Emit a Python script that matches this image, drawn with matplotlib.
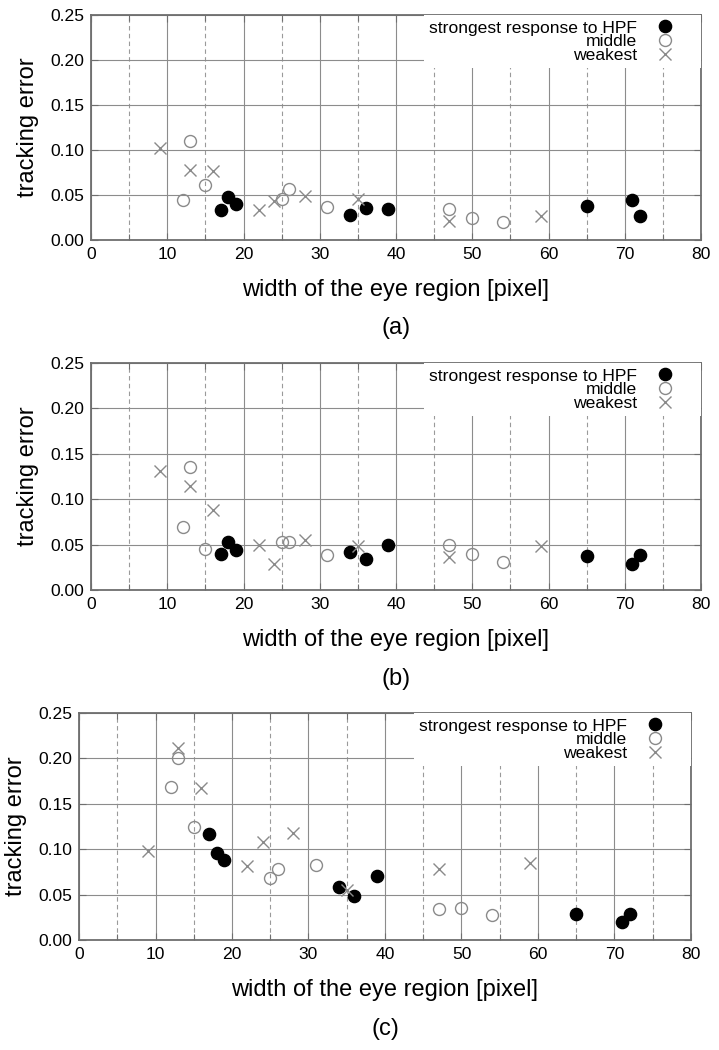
import matplotlib
matplotlib.use('Agg')
import matplotlib.pyplot as plt
from matplotlib.ticker import MultipleLocator

plt.rcParams['font.family'] = ['Liberation Sans', 'DejaVu Sans']

# eye region widths [pixel], same for all three panels
strong_x = [17, 18, 19, 34, 36, 39, 65, 71, 72]
middle_x = [12, 13, 15, 25, 26, 31, 47, 50, 54]
weak_x = [9, 13, 16, 22, 24, 28, 35, 47, 59]

# tracking error, panel (a)
strong_a = [0.033, 0.048, 0.040, 0.028, 0.036, 0.035, 0.038, 0.044, 0.027]
middle_a = [0.045, 0.110, 0.061, 0.046, 0.057, 0.037, 0.034, 0.025, 0.020]
weak_a = [0.102, 0.078, 0.077, 0.033, 0.043, 0.049, 0.046, 0.021, 0.027]

# tracking error, panel (b)
strong_b = [0.040, 0.053, 0.044, 0.042, 0.034, 0.050, 0.037, 0.029, 0.038]
middle_b = [0.069, 0.135, 0.045, 0.053, 0.053, 0.038, 0.050, 0.040, 0.031]
weak_b = [0.131, 0.115, 0.088, 0.050, 0.029, 0.055, 0.048, 0.036, 0.049]

# tracking error, panel (c)
strong_c = [0.117, 0.096, 0.088, 0.058, 0.048, 0.070, 0.029, 0.020, 0.029]
middle_c = [0.169, 0.200, 0.125, 0.068, 0.078, 0.083, 0.034, 0.035, 0.028]
weak_c = [0.098, 0.211, 0.167, 0.081, 0.108, 0.118, 0.055, 0.078, 0.085]

series_labels = ['strongest response to HPF', 'middle', 'weakest']
panel_tags = ['(a)', '(b)', '(c)']

W, H = 719, 1050
fig = plt.figure(figsize=(W / 100, H / 100), dpi=100)

# axes boxes in pixels: left, top, right, bottom
boxes = [(91, 15, 701, 240), (91, 363, 701, 590), (79, 713, 691, 940)]
panels = [(strong_a, middle_a, weak_a),
          (strong_b, middle_b, weak_b),
          (strong_c, middle_c, weak_c)]

tick_fs = 12.6
label_fs = 17
frame_col = '#6e6e6e'
grid_col = '#8c8c8c'
gray = '#8a8a8a'


def draw_panel(box, values, tag):
    l, t, r, b = box
    ax = fig.add_axes([l / W, 1 - b / H, (r - l) / W, (b - t) / H])
    strong, middle, weak = values

    ax.plot(strong_x, strong, ls='none', marker='o', ms=8.8,
            mfc='black', mec='black', label=series_labels[0], zorder=3)
    ax.plot(middle_x, middle, ls='none', marker='o', ms=8.6,
            mfc='none', mec=gray, mew=1.0, label=series_labels[1], zorder=3)
    ax.plot(weak_x, weak, ls='none', marker='x', ms=9.0,
            color=gray, mew=1.0, label=series_labels[2], zorder=3)

    ax.set_xlim(0, 80)
    ax.set_ylim(0, 0.25)
    ax.xaxis.set_major_locator(MultipleLocator(10))
    ax.xaxis.set_minor_locator(MultipleLocator(5))
    ax.yaxis.set_major_locator(MultipleLocator(0.05))
    ax.yaxis.set_major_formatter(lambda v, p: f'{v:.2f}')

    ax.grid(True, which='major', color=grid_col, lw=0.8)
    ax.grid(True, which='minor', axis='x', color='#9a9a9a', lw=0.8,
            ls=(0, (4, 3)))
    ax.set_axisbelow(True)

    ax.tick_params(which='both', direction='in', top=True, right=True,
                   length=5, width=0.8, color=frame_col,
                   labelsize=tick_fs, pad=5)
    ax.tick_params(which='minor', length=4)
    for s in ax.spines.values():
        s.set_color(frame_col)
        s.set_linewidth(1.3)

    ax.set_xlabel('width of the eye region [pixel]', fontsize=label_fs,
                  labelpad=12)
    ax.set_ylabel('tracking error', fontsize=label_fs, labelpad=8)

    leg = ax.legend(loc='upper right', bbox_to_anchor=(1, 1),
                    borderaxespad=0, borderpad=0.3, markerfirst=False,
                    handlelength=3.5, handletextpad=-0.16,
                    labelspacing=-0.08, fontsize=tick_fs, numpoints=1,
                    frameon=True, fancybox=False, framealpha=1,
                    edgecolor='none')
    for txt in leg.get_texts():
        txt.set_ha('right')
    leg._legend_box.align = 'right'

    ax.text(0.5, -0.39, tag, transform=ax.transAxes, ha='center',
            va='center', fontsize=label_fs)
    return ax


for box, values, tag in zip(boxes, panels, panel_tags):
    draw_panel(box, values, tag)

fig.savefig('out.png', dpi=100)
